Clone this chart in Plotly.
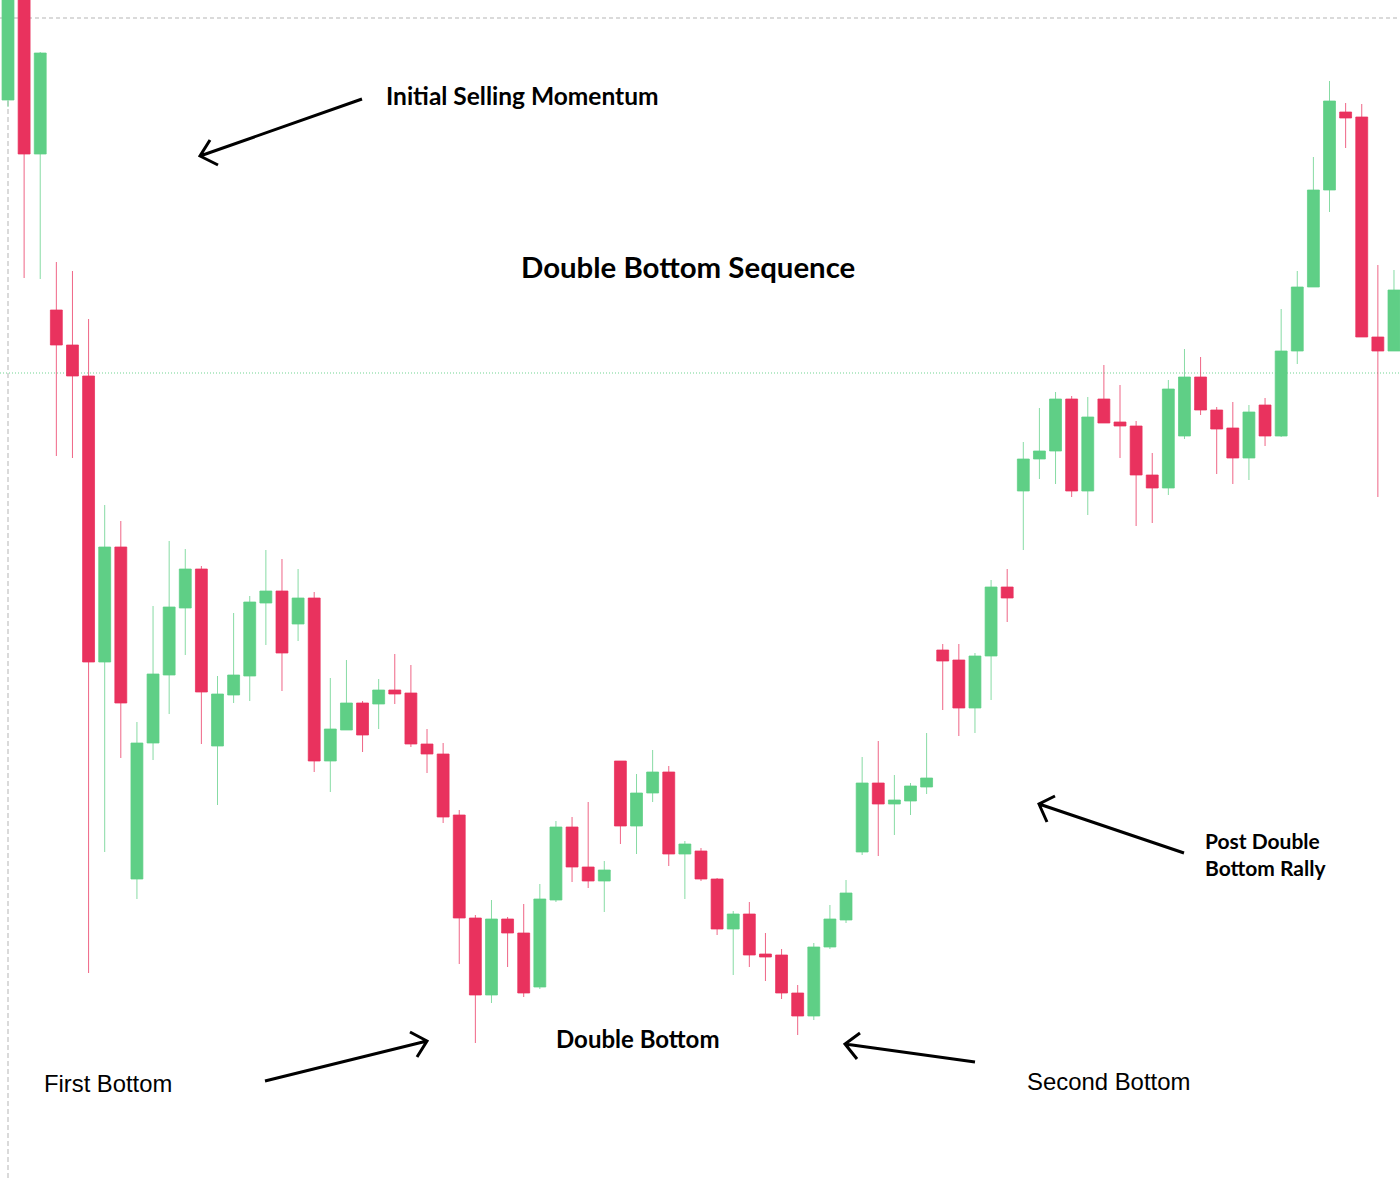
import plotly.graph_objects as go

# ---- data (price units) ----
bars = list(range(87))
open_ = [107.8, 120.8, 102.4, 86.8, 83.3, 80.2, 51.6, 63.1, 29.9, 43.5,
         50.3, 57.0, 60.9, 43.2, 48.3, 50.2, 57.5, 58.7, 55.4, 58.0,
         41.7, 44.8, 47.5, 47.4, 48.8, 48.5, 43.4, 42.4, 36.3, 26.0,
         18.3, 25.9, 24.5, 19.1, 27.8, 35.1, 31.1, 29.7, 41.7, 35.2,
         38.5, 40.6, 32.4, 32.7, 29.9, 24.9, 26.4, 22.4, 22.3, 18.5,
         16.2, 23.1, 25.8, 32.6, 39.5, 37.4, 37.7, 39.1, 52.8, 51.8,
         47.0, 52.2, 59.1, 68.7, 71.9, 72.7, 77.9, 68.7, 77.9, 75.6,
         75.2, 70.3, 69.0, 74.2, 80.1, 76.8, 75.0, 72.0, 77.3, 74.2,
         82.7, 89.1, 98.8, 106.6, 106.1, 84.1, 82.7]
close = [120.8, 102.4, 112.5, 83.3, 80.2, 51.6, 63.1, 47.5, 43.5, 50.4,
         57.1, 60.9, 48.6, 48.4, 50.3, 57.6, 58.7, 52.5, 58.0, 41.7,
         44.9, 47.5, 44.3, 48.8, 48.4, 43.4, 42.4, 36.1, 26.0, 18.3,
         25.9, 24.5, 18.5, 27.9, 35.1, 31.1, 29.7, 30.8, 35.2, 38.5,
         40.6, 32.4, 33.4, 29.9, 24.9, 26.4, 22.3, 22.1, 18.5, 16.2,
         23.1, 25.9, 28.5, 39.5, 37.4, 37.8, 39.2, 40.0, 51.7, 47.0,
         52.2, 59.1, 58.0, 71.9, 72.7, 77.9, 68.7, 76.1, 75.5, 75.2,
         70.3, 69.0, 78.9, 80.1, 76.8, 74.9, 72.0, 76.6, 74.2, 82.7,
         89.1, 98.8, 107.7, 106.0, 84.1, 82.7, 88.8]
high = [121.3, 121.3, 112.6, 91.6, 90.7, 85.9, 67.3, 65.7, 45.6, 57.2,
        63.7, 62.9, 61.2, 50.2, 56.5, 58.2, 62.8, 61.9, 60.9, 58.6,
        50.0, 51.8, 47.7, 49.9, 52.4, 51.3, 44.9, 43.5, 36.8, 26.3,
        27.8, 26.1, 27.4, 29.4, 35.7, 36.1, 37.6, 31.7, 41.7, 40.4,
        42.8, 41.2, 33.7, 33.0, 30.0, 26.7, 27.6, 24.5, 22.9, 19.3,
        23.5, 27.3, 29.8, 42.1, 43.7, 40.3, 39.5, 44.5, 53.4, 53.4,
        52.5, 59.8, 60.9, 73.6, 77.0, 78.6, 78.2, 78.1, 81.3, 79.3,
        75.7, 72.5, 79.8, 82.9, 82.1, 77.1, 77.6, 77.3, 78.0, 86.9,
        90.7, 102.1, 109.7, 107.5, 107.4, 91.3, 90.8]
low = [107.1, 90.0, 89.9, 72.2, 72.0, 20.5, 32.6, 42.0, 27.9, 41.8,
       46.4, 52.3, 43.4, 37.3, 47.5, 47.7, 53.3, 48.7, 53.7, 40.6,
       38.6, 44.8, 42.6, 44.9, 47.4, 43.1, 40.5, 35.5, 21.4, 13.5,
       17.5, 21.1, 18.1, 18.9, 27.6, 29.6, 29.0, 26.6, 33.4, 32.4,
       37.6, 31.2, 27.9, 29.7, 24.3, 20.3, 21.1, 19.7, 17.9, 14.3,
       15.8, 22.9, 25.5, 32.3, 32.2, 34.3, 36.3, 38.4, 46.8, 44.2,
       44.5, 47.8, 55.6, 62.8, 69.9, 69.4, 68.1, 66.3, 75.5, 72.0,
       65.2, 65.5, 68.3, 73.9, 76.3, 70.4, 69.4, 69.8, 73.2, 74.1,
       81.4, 89.1, 96.6, 103.0, 84.1, 68.1, 82.7]

resistance_level = 116.0
neckline_level = 80.5

W, H = 1400, 1178
GREEN = "rgb(95,207,134)"
RED = "rgb(233,50,94)"


def P(x, y):
    return x / W, 1 - y / H


fig = go.Figure(go.Candlestick(
    x=bars, open=open_, high=high, low=low, close=close,
    increasing=dict(fillcolor=GREEN, line=dict(color="rgba(95,207,134,0.75)", width=1)),
    decreasing=dict(fillcolor=RED, line=dict(color="rgba(233,50,94,0.75)", width=1)),
    whiskerwidth=0, hoverinfo="skip",
))

shapes = [
    dict(type="line", xref="paper", yref="y", x0=0, x1=1, y0=resistance_level, y1=resistance_level,
         line=dict(color="#b5b5b5", width=1, dash="4px,3px"), layer="below"),
    dict(type="line", xref="paper", yref="y", x0=0, x1=1, y0=neckline_level, y1=neckline_level,
         line=dict(color="rgba(95,207,134,0.9)", width=1, dash="1px,2px"), layer="below"),
    dict(type="line", xref="x", yref="paper", x0=0, x1=0, y0=0, y1=1,
         line=dict(color="#b5b5b5", width=1, dash="5px,3px"), layer="below"),
]


def arrow(tail, tip, arm1, arm2):
    pts = [P(*tail), P(*tip), P(*arm1), P(*arm2)]
    (tx, ty), (hx, hy), (a1x, a1y), (a2x, a2y) = pts
    path = (f"M{tx},{ty} L{hx},{hy} M{a1x},{a1y} L{hx},{hy} L{a2x},{a2y}")
    return dict(type="path", xref="paper", yref="paper", path=path,
                line=dict(color="black", width=3))


shapes += [
    arrow((362, 99), (200, 156), (210, 140), (218, 165)),
    arrow((265, 1081), (427, 1041), (410, 1032), (417, 1057)),
    arrow((975, 1062), (845, 1044), (860, 1033), (857, 1059)),
    arrow((1184, 853), (1039, 804), (1055, 796), (1047, 822)),
]

bold = "Lato"
reg = "Liberation Sans"


def label(text, x, y, size, family, weight, xanchor="center", align="center"):
    px, py = P(x, y)
    return dict(text=text, x=px, y=py, xref="paper", yref="paper", showarrow=False,
                xanchor=xanchor, yanchor="middle", align=align,
                font=dict(family=family, size=size, color="black", weight=weight))


annotations = [
    label("Initial Selling Momentum", 522, 95, 24.5, bold, "bold"),
    label("Double Bottom Sequence", 688, 267, 29.4, bold, "bold"),
    label("Double Bottom", 638, 1038, 24, bold, "bold"),
    label("First Bottom", 108, 1083, 23.8, reg, "normal"),
    label("Second Bottom", 1108, 1081, 23.9, reg, "normal"),
    label("Post Double<br>Bottom Rally", 1203, 854, 21, bold, "bold", xanchor="left", align="left"),
]

step = 16.116
fig.update_layout(
    width=W, height=H, margin=dict(l=0, r=0, t=0, b=0),
    paper_bgcolor="white", plot_bgcolor="white",
    showlegend=False, boxgap=0.26, boxgroupgap=0,
    xaxis=dict(visible=False, range=[-8 / step, 1392 / step], rangeslider=dict(visible=False)),
    yaxis=dict(visible=False, range=[0, 117.8]),
    shapes=shapes, annotations=annotations,
)

fig.write_html("out.html", config={"displayModeBar": False},
               post_script="document.body.style.margin='0';document.body.style.overflow='hidden';")
